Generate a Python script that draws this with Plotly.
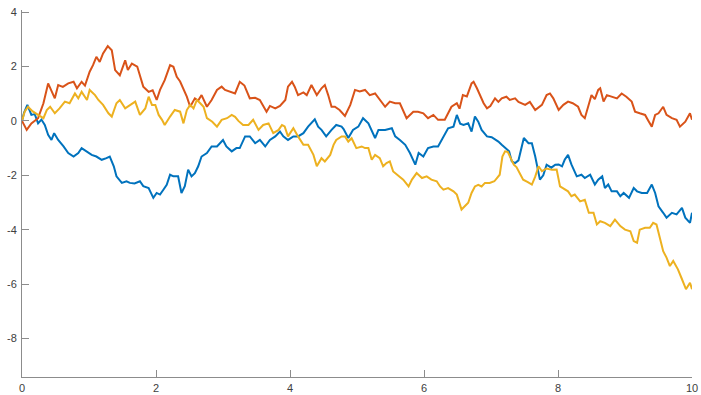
import plotly.graph_objects as go

# Three sample paths (time, value)
t_blue = [0, 0.03, 0.08, 0.14, 0.19, 0.24, 0.29, 0.34, 0.39, 0.44, 0.48, 0.54, 0.62, 0.69, 0.77, 0.84, 0.89, 0.96,
          1.04, 1.11, 1.19, 1.26, 1.31, 1.37, 1.41, 1.49, 1.56, 1.61, 1.68, 1.76, 1.81, 1.89, 1.96, 2.01, 2.06, 2.11,
          2.16, 2.21, 2.26, 2.33, 2.38, 2.43, 2.48, 2.53, 2.58, 2.63, 2.68, 2.76, 2.83, 2.91, 3.00, 3.05, 3.13, 3.20,
          3.25, 3.33, 3.40, 3.48, 3.55, 3.63, 3.70, 3.78, 3.85, 3.90, 3.97, 4.05, 4.12, 4.20, 4.27, 4.37, 4.42, 4.47,
          4.54, 4.62, 4.69, 4.77, 4.80, 4.87, 4.94, 5.02, 5.09, 5.17, 5.27, 5.32, 5.42, 5.52, 5.57, 5.64, 5.72, 5.79,
          5.87, 5.92, 5.99, 6.06, 6.14, 6.21, 6.29, 6.36, 6.44, 6.49, 6.54, 6.59, 6.66, 6.71, 6.76, 6.81, 6.86, 6.94,
          7.01, 7.11, 7.16, 7.27, 7.31, 7.36, 7.41, 7.46, 7.49, 7.56, 7.61, 7.66, 7.71, 7.73, 7.78, 7.83, 7.90, 7.96,
          8.01, 8.06, 8.10, 8.15, 8.20, 8.28, 8.35, 8.40, 8.48, 8.55, 8.60, 8.66, 8.70, 8.75, 8.80, 8.88, 8.93, 8.98,
          9.06, 9.13, 9.18, 9.25, 9.33, 9.40, 9.45, 9.50, 9.57, 9.62, 9.70, 9.77, 9.85, 9.90, 9.97, 10.0]
v_blue = [0, 0.3, 0.59, 0.22, 0.25, -0.09, 0.05, -0.15, -0.51, -0.7, -0.45, -0.7, -0.94, -1.18, -1.31, -1.18, -1.0, -1.12,
          -1.25, -1.31, -1.43, -1.37, -1.31, -1.67, -2.04, -2.28, -2.22, -2.28, -2.3, -2.22, -2.4, -2.47, -2.83, -2.65,
          -2.71, -2.53, -2.35, -1.98, -2.04, -2.04, -2.65, -2.4, -1.79, -2.04, -1.92, -1.67, -1.31, -1.18, -0.94, -0.94,
          -0.7, -0.94, -1.12, -1.0, -1.0, -0.57, -0.57, -0.82, -0.7, -0.94, -0.7, -0.57, -0.39, -0.57, -0.7, -0.57,
          -0.57, -0.45, -0.21, 0.06, -0.21, -0.33, -0.57, -0.33, -0.15, -0.21, -0.3, -0.63, -0.33, -0.21, 0.1, -0.09,
          -0.63, -0.33, -0.33, -0.27, -0.57, -0.7, -0.88, -1.18, -1.61, -1.18, -1.31, -1.0, -0.94, -0.94, -0.57, -0.27,
          -0.21, 0.22, -0.1, -0.15, -0.09, -0.39, 0.16, -0.03, -0.33, -0.57, -0.6, -0.76, -0.88, -1.12, -1.49, -1.55,
          -1.45, -1.0, -0.63, -0.82, -0.82, -1.31, -1.86, -2.16, -2.0, -1.61, -1.72, -1.61, -1.6, -1.67, -1.43, -1.25,
          -1.6, -2.04, -1.98, -2.1, -1.98, -2.34, -2.16, -2.04, -2.47, -2.34, -2.59, -2.59, -2.77, -2.65, -2.83, -2.47,
          -2.59, -2.65, -2.65, -2.34, -2.65, -3.14, -3.38, -3.56, -3.38, -3.44, -3.2, -3.56, -3.75, -3.38]

t_red = [0, 0.07, 0.14, 0.24, 0.32, 0.39, 0.49, 0.54, 0.61, 0.69, 0.77, 0.82, 0.89, 0.94, 1.01, 1.06, 1.11, 1.16, 1.21,
         1.28, 1.34, 1.39, 1.46, 1.54, 1.58, 1.64, 1.72, 1.81, 1.89, 1.95, 2.01, 2.06, 2.13, 2.21, 2.26, 2.31, 2.36,
         2.41, 2.46, 2.51, 2.58, 2.63, 2.68, 2.76, 2.83, 2.91, 2.98, 3.03, 3.10, 3.18, 3.25, 3.32, 3.40, 3.48, 3.55,
         3.65, 3.70, 3.78, 3.85, 3.93, 3.97, 4.03, 4.07, 4.12, 4.20, 4.25, 4.32, 4.40, 4.47, 4.52, 4.57, 4.62, 4.67,
         4.74, 4.82, 4.90, 4.97, 5.04, 5.12, 5.19, 5.27, 5.34, 5.42, 5.49, 5.57, 5.64, 5.74, 5.84, 5.91, 5.99, 6.06,
         6.14, 6.21, 6.31, 6.41, 6.49, 6.53, 6.58, 6.64, 6.71, 6.74, 6.79, 6.84, 6.89, 6.94, 6.99, 7.06, 7.11, 7.16,
         7.23, 7.28, 7.36, 7.41, 7.51, 7.58, 7.66, 7.76, 7.83, 7.88, 7.93, 8.01, 8.08, 8.15, 8.22, 8.30, 8.35, 8.40,
         8.45, 8.50, 8.55, 8.60, 8.63, 8.68, 8.73, 8.80, 8.88, 8.95, 9.02, 9.10, 9.15, 9.22, 9.30, 9.35, 9.40, 9.45,
         9.50, 9.57, 9.62, 9.70, 9.77, 9.82, 9.90, 9.97, 10.0]
v_red = [0, -0.33, -0.09, 0.1, 0.65, 1.38, 0.83, 1.32, 1.25, 1.38, 1.44, 1.2, 1.44, 1.3, 1.81, 2.05, 2.36, 2.17, 2.48,
         2.75, 2.6, 1.87, 1.68, 2.23, 1.87, 2.11, 2.0, 1.26, 1.07, 1.13, 0.77, 1.14, 1.5, 2.05, 1.99, 1.62, 1.45, 1.2,
         0.89, 0.52, 0.83, 0.75, 0.95, 0.52, 0.77, 1.14, 1.26, 1.14, 1.07, 1.01, 1.44, 1.3, 0.83, 0.85, 0.77, 0.34,
         0.55, 0.46, 0.55, 0.77, 1.26, 1.44, 1.26, 0.95, 1.05, 0.95, 1.32, 0.95, 1.2, 1.32, 0.95, 0.52, 0.52, 0.4, 0.18,
         0.59, 1.14, 1.08, 1.14, 0.95, 1.01, 0.77, 0.52, 0.71, 0.65, 0.65, 0.1, 0.34, 0.34, 0.28, 0.1, 0.22, 0.04, 0.04,
         0.52, 0.65, 0.45, 0.95, 0.9, 1.38, 1.44, 1.2, 0.89, 0.65, 0.46, 0.55, 0.83, 0.7, 0.83, 0.89, 0.77, 0.83, 0.7,
         0.59, 0.7, 0.4, 0.59, 0.95, 1.01, 0.83, 0.4, 0.59, 0.71, 0.65, 0.52, 0.22, 0.1, 0.5, 0.95, 0.8, 1.14, 1.2,
         0.71, 0.95, 0.89, 0.83, 1.01, 0.89, 0.71, 0.34, 0.28, 0.22, 0.0, -0.21, 0.22, 0.28, 0.52, 0.22, 0.1, 0.04,
         -0.21, -0.03, 0.28, 0.04]

t_yellow = [0, 0.04, 0.09, 0.16, 0.24, 0.32, 0.37, 0.42, 0.49, 0.56, 0.64, 0.71, 0.79, 0.84, 0.89, 0.97, 1.01, 1.09,
            1.14, 1.21, 1.29, 1.34, 1.41, 1.46, 1.54, 1.61, 1.69, 1.76, 1.84, 1.89, 1.94, 1.99, 2.04, 2.09, 2.13, 2.21,
            2.28, 2.36, 2.41, 2.46, 2.51, 2.56, 2.61, 2.66, 2.71, 2.76, 2.84, 2.91, 2.98, 3.06, 3.13, 3.18, 3.23, 3.30,
            3.38, 3.45, 3.53, 3.60, 3.68, 3.75, 3.83, 3.88, 3.92, 3.97, 4.05, 4.12, 4.20, 4.27, 4.35, 4.40, 4.47, 4.52,
            4.60, 4.65, 4.69, 4.77, 4.82, 4.87, 4.92, 4.99, 5.07, 5.12, 5.17, 5.22, 5.27, 5.34, 5.39, 5.44, 5.49, 5.54,
            5.62, 5.69, 5.77, 5.82, 5.89, 5.97, 6.04, 6.11, 6.19, 6.24, 6.29, 6.36, 6.44, 6.49, 6.56, 6.61, 6.66, 6.71,
            6.76, 6.81, 6.86, 6.91, 6.98, 7.05, 7.13, 7.17, 7.21, 7.25, 7.30, 7.34, 7.38, 7.43, 7.48, 7.55, 7.61, 7.66,
            7.71, 7.76, 7.83, 7.91, 7.98, 8.03, 8.07, 8.15, 8.20, 8.25, 8.33, 8.40, 8.46, 8.53, 8.58, 8.63, 8.70, 8.78,
            8.85, 8.93, 9.00, 9.08, 9.13, 9.18, 9.22, 9.30, 9.37, 9.42, 9.47, 9.52, 9.57, 9.62, 9.67, 9.72, 9.79, 9.84,
            9.91, 9.97, 10.0]
v_yellow = [0, 0.34, 0.52, 0.35, 0.22, 0.1, 0.4, 0.52, 0.28, 0.46, 0.71, 0.65, 1.01, 0.83, 1.07, 0.77, 1.14, 0.95,
            0.77, 0.59, 0.28, 0.16, 0.65, 0.77, 0.46, 0.59, 0.71, 0.22, 0.46, 0.89, 0.59, 0.59, 0.22, 0.04, -0.15, 0.16,
            0.4, 0.34, -0.09, 0.4, 0.59, 0.46, 0.77, 0.65, 0.52, 0.1, -0.03, -0.21, 0.04, 0.1, 0.22, 0.15, 0.0, -0.15,
            -0.15, 0.04, -0.33, -0.15, -0.09, -0.45, -0.33, -0.15, -0.2, -0.57, -0.27, -0.57, -0.88, -0.88, -1.25, -1.67,
            -1.37, -1.49, -1.25, -0.88, -0.7, -0.57, -0.57, -0.76, -0.64, -1.0, -0.94, -1.0, -1.0, -1.43, -1.25, -1.37,
            -1.67, -1.55, -1.49, -1.86, -2.04, -2.16, -2.41, -2.16, -1.92, -2.1, -2.04, -2.16, -2.22, -2.41, -2.53,
            -2.47, -2.59, -2.71, -3.26, -3.14, -3.01, -2.65, -2.41, -2.35, -2.41, -2.28, -2.28, -2.22, -1.98, -1.31,
            -1.12, -1.14, -1.43, -1.61, -1.7, -1.92, -2.16, -2.25, -2.34, -2.05, -1.67, -1.85, -1.75, -1.8, -1.79,
            -2.41, -2.47, -2.59, -2.77, -2.71, -2.96, -2.9, -3.38, -3.38, -3.81, -3.69, -3.75, -3.87, -3.63, -3.87,
            -4.0, -4.06, -4.42, -4.48, -4.0, -3.93, -3.93, -3.75, -3.81, -4.36, -4.79, -5.03, -5.34, -5.15, -5.46,
            -5.76, -6.19, -5.95, -6.19]

x_ticks = [0, 2, 4, 6, 8, 10]
x_labels = ["0", "2", "4", "6", "8", "10"]
y_ticks = [4, 2, 0, -2, -4, -6, -8]
y_labels = ["4", "2", "0", "-2", "-4", "-6", "-8"]

fig = go.Figure()
for t, v, color in [(t_blue, v_blue, "#0072BD"), (t_red, v_red, "#D95319"), (t_yellow, v_yellow, "#EDB120")]:
    fig.add_trace(go.Scatter(x=t, y=v, mode="lines", line=dict(color=color, width=2), showlegend=False))

axis_style = dict(
    showgrid=False, zeroline=False, showline=True, linecolor="#8c8c8c", linewidth=1,
    ticks="inside", ticklen=7, tickcolor="#8c8c8c", tickwidth=1, automargin=False,
    tickfont=dict(family="Liberation Sans, Arial, sans-serif", size=11, color="#404040"),
)
fig.update_xaxes(range=[0, 10], tickvals=x_ticks, ticktext=x_labels, ticklabelstandoff=1, **axis_style)
fig.update_yaxes(range=[-9.42, 4.08], tickvals=y_ticks, ticktext=y_labels, ticklabelstandoff=2, **axis_style)

fig.update_layout(
    width=701, height=395,
    margin=dict(l=22, r=9, t=10, b=18),
    plot_bgcolor="white", paper_bgcolor="white",
)
fig.write_html("out.html")
